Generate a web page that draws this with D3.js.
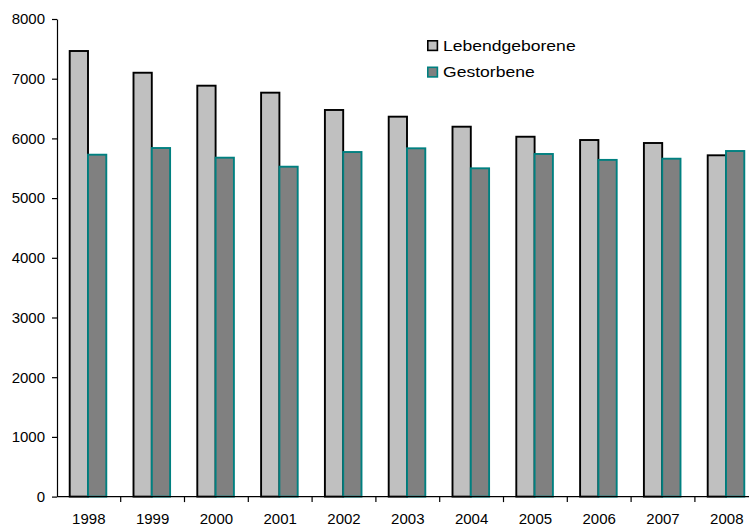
<!DOCTYPE html>
<html>
<head>
<meta charset="utf-8">
<script src="https://cdn.jsdelivr.net/npm/d3@7"></script>
<style>
  html, body { margin: 0; padding: 0; background: #fff; }
  svg { display: block; font-family: "Liberation Sans", Arial, sans-serif; }
</style>
</head>
<body>
<svg id="chart" width="749" height="526"></svg>
<script>
// Births and deaths per year
const years = ["1998","1999","2000","2001","2002","2003","2004","2005","2006","2007","2008"];
const lebendgeborene = [7464, 7100, 6883, 6766, 6476, 6364, 6196, 6028, 5973, 5923, 5717];
const gestorbene     = [5727, 5839, 5677, 5526, 5772, 5834, 5499, 5739, 5640, 5660, 5789];
const seriesNames = ["Lebendgeborene", "Gestorbene"];
const yTicks = [0, 1000, 2000, 3000, 4000, 5000, 6000, 7000, 8000];

const fills   = ["#c0c0c0", "#808080"];
const strokes = ["#000000", "#008080"];

const svg = d3.select("#chart");

const x0 = d3.scaleBand().domain(years).range([56.9, 758.7]).padding(0);
const x1 = d3.scaleBand().domain(seriesNames).range([12.8, 12.8 + 36.6]).padding(0);
const y = d3.scaleLinear().domain([0, 8000]).range([496.6, 19]);

const rows = years.map((yr, i) => ({ year: yr, values: [lebendgeborene[i], gestorbene[i]] }));

// bars
const groups = svg.append("g").selectAll("g").data(rows).join("g")
  .attr("transform", d => `translate(${x0(d.year)},0)`);

groups.selectAll("rect")
  .data(d => d.values.map((v, k) => ({ v, k })))
  .join("rect")
  .attr("x", d => x1(seriesNames[d.k]))
  .attr("y", d => y(d.v))
  .attr("width", x1.bandwidth())
  .attr("height", d => y(0) - y(d.v))
  .attr("fill", d => fills[d.k])
  .attr("stroke", d => strokes[d.k])
  .attr("stroke-width", 1.9);

// y axis
const yAxis = svg.append("g")
  .attr("transform", "translate(57,0)")
  .call(d3.axisLeft(y).tickValues(yTicks).tickFormat(d3.format("d")).tickSize(5).tickPadding(7).tickSizeOuter(0));
yAxis.select(".domain").attr("stroke", "#000").attr("stroke-width", 1.2);
yAxis.selectAll(".tick line").attr("stroke", "#000").attr("stroke-width", 1.2);
yAxis.selectAll("text").attr("font-size", 15).attr("fill", "#000")
  .attr("font-family", "'Liberation Sans', Arial, sans-serif");

// x axis: ticks at category boundaries
const xAxisG = svg.append("g").attr("transform", `translate(0,${y(0)})`);
xAxisG.append("line")
  .attr("x1", 57).attr("x2", 760).attr("y1", 0).attr("y2", 0)
  .attr("stroke", "#000").attr("stroke-width", 1.2);
xAxisG.selectAll("line.tk").data(years.slice(1)).join("line")
  .attr("class", "tk")
  .attr("x1", d => x0(d)).attr("x2", d => x0(d))
  .attr("y1", 0).attr("y2", 5.5)
  .attr("stroke", "#000").attr("stroke-width", 1.2);
xAxisG.selectAll("text").data(years).join("text")
  .attr("x", d => x0(d) + x0.bandwidth() / 2)
  .attr("y", 27.5)
  .attr("text-anchor", "middle")
  .attr("font-size", 15)
  .attr("fill", "#000")
  .text(d => d);

// legend
const legend = svg.append("g").attr("transform", "translate(427,40)");
const items = legend.selectAll("g").data(seriesNames).join("g")
  .attr("transform", (d, i) => `translate(0,${i * 26.5})`);
items.append("rect")
  .attr("x", 0.8).attr("y", 0.8).attr("width", 9.6).attr("height", 9.6)
  .attr("fill", (d, i) => fills[i])
  .attr("stroke", (d, i) => strokes[i])
  .attr("stroke-width", 1.6);
items.append("text")
  .attr("transform", "translate(16,10.8) scale(1.17,1)")
  .attr("font-size", 15)
  .attr("fill", "#000")
  .text(d => d);
</script>
</body>
</html>
